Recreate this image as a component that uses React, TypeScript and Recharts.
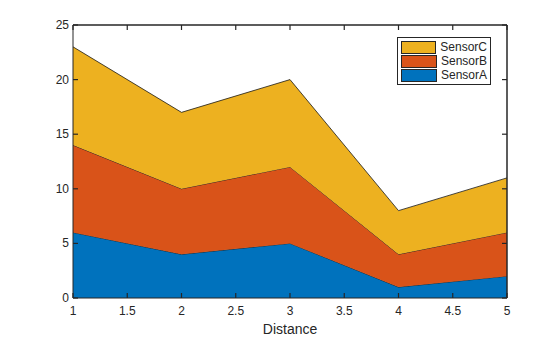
import React from 'react';
import { ComposedChart, Area, XAxis, YAxis, Legend, ReferenceLine } from 'recharts';

const distance = [1, 2, 3, 4, 5];
const sensorA = [6, 4, 5, 1, 2];
const sensorB = [8, 6, 7, 3, 4];
const sensorC = [9, 7, 8, 4, 5];
const xTicks = [1, 1.5, 2, 2.5, 3, 3.5, 4, 4.5, 5];
const yTicks = [0, 5, 10, 15, 20, 25];

const series = [
  { key: 'SensorA', color: '#0072BD' },
  { key: 'SensorB', color: '#D95319' },
  { key: 'SensorC', color: '#EDB120' },
];

const data = distance.map((d, i) => ({
  distance: d,
  SensorA: sensorA[i],
  SensorB: sensorB[i],
  SensorC: sensorC[i],
}));

const AX = '#262626';
const FONT = '"Liberation Sans", Arial, sans-serif';

const BottomTick = (props: any) => {
  const { x, y, payload } = props;
  return (
    <text x={x} y={y + 17} textAnchor="middle" fill={AX} fontSize={12} fontFamily={FONT}>
      {payload.value}
    </text>
  );
};

const LeftTick = (props: any) => {
  const { x, y, payload } = props;
  return (
    <text x={x - 4} y={y + 4} textAnchor="end" fill={AX} fontSize={12} fontFamily={FONT}>
      {payload.value}
    </text>
  );
};

// short inward tick marks at both ends of a reference line (MATLAB box style)
const VTicks = (props: any) => {
  const { x1, y1, y2 } = props;
  const top = Math.min(y1, y2);
  const bot = Math.max(y1, y2);
  return (
    <g>
      <line x1={x1} y1={top} x2={x1} y2={top + 5} stroke={AX} strokeWidth={1.2} />
      <line x1={x1} y1={bot} x2={x1} y2={bot - 5} stroke={AX} strokeWidth={1.2} />
    </g>
  );
};

const HTicks = (props: any) => {
  const { x1, x2, y1 } = props;
  const l = Math.min(x1, x2);
  const r = Math.max(x1, x2);
  return (
    <g>
      <line x1={l} y1={y1} x2={l + 5} y2={y1} stroke={AX} strokeWidth={1.2} />
      <line x1={r} y1={y1} x2={r - 5} y2={y1} stroke={AX} strokeWidth={1.2} />
    </g>
  );
};

const LegendBox = () => (
  <div
    style={{
      border: `1px solid ${AX}`,
      background: '#fff',
      padding: '2px 3px',
      fontFamily: FONT,
      fontSize: 12,
      color: AX,
      lineHeight: '14px',
    }}
  >
    {[...series].reverse().map((s) => (
      <div key={s.key} style={{ display: 'flex', alignItems: 'center', height: 14 }}>
        <span
          style={{
            display: 'inline-block',
            width: 38,
            height: 11,
            background: s.color,
            border: `1px solid ${AX}`,
            marginRight: 4,
          }}
        />
        {s.key}
      </div>
    ))}
  </div>
);

export default function App() {
  return (
    <div style={{ position: 'absolute', left: 0, top: 0, width: 560, height: 337, background: '#fff' }}>
      <ComposedChart width={560} height={337} data={data} margin={{ top: 25, right: 53, bottom: 0, left: 0 }}>
        <XAxis
          dataKey="distance"
          type="number"
          domain={[1, 5]}
          ticks={xTicks}
          height={39}
          tickSize={0}
          tickMargin={0}
          stroke={AX}
          tick={<BottomTick />}
          label={{ value: 'Distance', position: 'insideBottom', offset: 3, fill: AX, fontSize: 14, fontFamily: FONT }}
        />
        <YAxis
          type="number"
          domain={[0, 25]}
          ticks={yTicks}
          width={73}
          tickSize={0}
          tickMargin={0}
          stroke={AX}
          tick={<LeftTick />}
        />
        {series.map((s) => (
          <Area
            key={s.key}
            type="linear"
            dataKey={s.key}
            stackId="1"
            fill={s.color}
            fillOpacity={1}
            stroke="#1a1a1a"
            strokeWidth={0.8}
            isAnimationActive={false}
          />
        ))}
        {/* box edges on top and right */}
        <ReferenceLine y={25} stroke={AX} strokeWidth={1.5} ifOverflow="visible" />
        <ReferenceLine x={5} stroke={AX} strokeWidth={1.5} ifOverflow="visible" />
        {xTicks.map((t) => (
          <ReferenceLine key={'x' + t} x={t} shape={<VTicks />} ifOverflow="visible" />
        ))}
        {yTicks.map((t) => (
          <ReferenceLine key={'y' + t} y={t} shape={<HTicks />} ifOverflow="visible" />
        ))}
        <Legend
          layout="vertical"
          verticalAlign="middle"
          align="center"
          content={<LegendBox />}
          wrapperStyle={{ position: 'absolute', left: 397, top: 37, width: 94 }}
        />
      </ComposedChart>
    </div>
  );
}
